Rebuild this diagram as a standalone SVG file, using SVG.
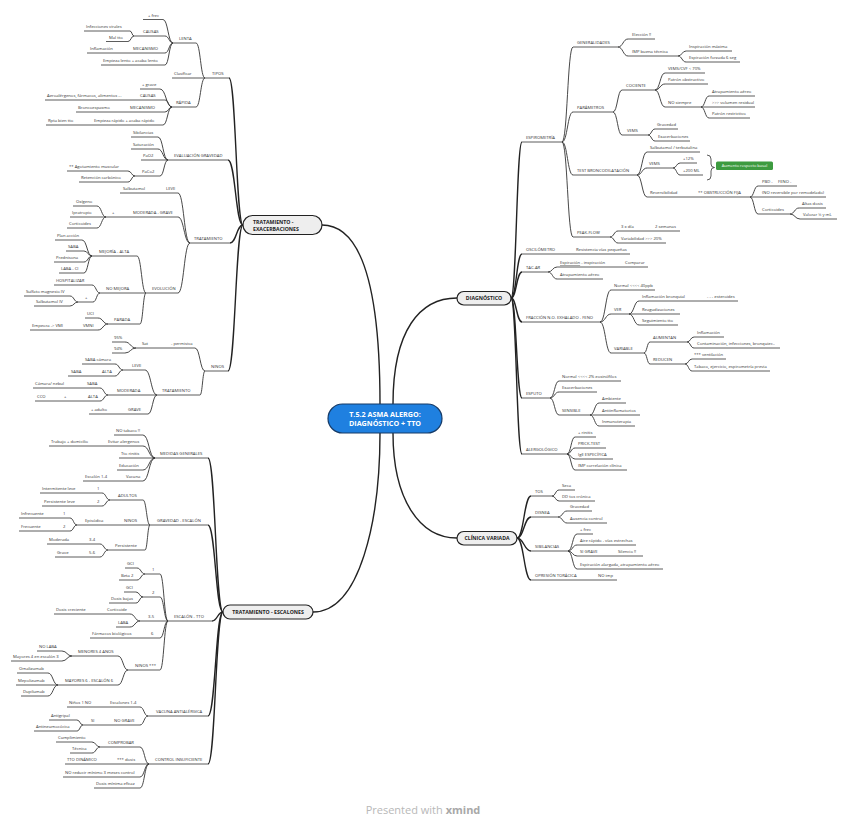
<svg xmlns="http://www.w3.org/2000/svg" width="848" height="829" viewBox="0 0 848 829">
<style>
.n text{font-family:'Open Sans','Liberation Sans',sans-serif;font-size:4.2px;fill:#333}
.n path{stroke:#333;stroke-width:.8;fill:none}
#connectors path{stroke:#333;stroke-width:.9;fill:none}
#connectors path.main{stroke-width:1.4;stroke:#222}
.m rect{fill:#eeeeee;stroke:#222;stroke-width:1.2}
.m text{font-family:'Open Sans','Liberation Sans',sans-serif;font-weight:700;font-size:5.2px;fill:#222}
</style>
<rect width="848" height="829" fill="#fff"/>
<g id="connectors">
<path class="main" d="M322 225C365 225 380 300 380 404"/>
<path class="main" d="M393 404C393 330 420 298 457 298"/>
<path class="main" d="M313 612C360 612 380 520 380 433"/>
<path class="main" d="M393 433C393 500 420 538 457 538"/>
<path class="main" d="M243 225C236 225 236 78 229 78"/>
<path class="main" d="M243 225C235.5 225 235.5 160 228 160"/>
<path class="main" d="M243 225C236.5 225 236.5 243 230 243"/>
<path class="main" d="M243 225C235.5 225 235.5 371 228 371"/>
<path class="main" d="M223 612C215.5 612 215.5 458 208 458"/>
<path class="main" d="M223 612C215.5 612 215.5 525 208 525"/>
<path class="main" d="M223 612C217.5 612 217.5 621 212 621"/>
<path class="main" d="M223 612C215.5 612 215.5 716 208 716"/>
<path class="main" d="M223 612C215.5 612 215.5 764 208 764"/>
<path class="main" d="M511 298C516.5 298 516.5 142 522 142"/>
<path class="main" d="M511 298C516.5 298 516.5 254 522 254"/>
<path class="main" d="M511 298C516.5 298 516.5 272 522 272"/>
<path class="main" d="M511 298C516.5 298 516.5 322 522 322"/>
<path class="main" d="M511 298C516.5 298 516.5 398 522 398"/>
<path class="main" d="M511 298C516.5 298 516.5 454 522 454"/>
<path class="main" d="M517 538C524 538 524 496 531 496"/>
<path class="main" d="M517 538C524 538 524 517 531 517"/>
<path class="main" d="M517 538C524 538 524 551 531 551"/>
<path class="main" d="M517 538C524 538 524 580 531 580"/>
<path d="M205 78C200.5 78 200.5 43 196 43"/>
<path d="M205 78C200.5 78 200.5 107 196 107"/>
<path d="M173 43C168 43 168 19.5 163 19.5"/>
<path d="M173 43C169 43 169 36 165 36"/>
<path d="M173 43C169 43 169 53 165 53"/>
<path d="M173 43C169 43 169 65 165 65"/>
<path d="M134 36C132 36 132 31 130 31"/>
<path d="M134 36C131 36 131 41.5 128 41.5"/>
<path d="M172 107C166 107 166 89 160 89"/>
<path d="M172 107C168.5 107 168.5 100 165 100"/>
<path d="M172 107C168.5 107 168.5 112 165 112"/>
<path d="M172 107C167.5 107 167.5 125 163 125"/>
<path d="M168 160C163 160 163 137 158 137"/>
<path d="M168 160C163 160 163 149 158 149"/>
<path d="M168 160C164 160 164 176 160 176"/>
<path d="M135 176C131.5 176 131.5 171 128 171"/>
<path d="M135 176C131.5 176 131.5 182 128 182"/>
<path d="M190 243C184 243 184 193 178 193"/>
<path d="M190 243C184 243 184 217 178 217"/>
<path d="M190 243C184 243 184 293 178 293"/>
<path d="M106 217C101.5 217 101.5 206 97 206"/>
<path d="M106 217C101.5 217 101.5 228 97 228"/>
<path d="M146 293C141.5 293 141.5 256 137 256"/>
<path d="M146 293C143 293 143 324 140 324"/>
<path d="M92 256C87 256 87 240 82 240"/>
<path d="M92 256C88 256 88 251 84 251"/>
<path d="M92 256C88 256 88 262 84 262"/>
<path d="M92 256C88 256 88 273 84 273"/>
<path d="M100 293C96 293 96 285 92 285"/>
<path d="M100 293C96.5 293 96.5 302 93 302"/>
<path d="M78 302C74 302 74 296 70 296"/>
<path d="M78 302C74 302 74 306 70 306"/>
<path d="M108 324C103 324 103 318 98 318"/>
<path d="M108 324C103 324 103 330 98 330"/>
<path d="M205 371C200 371 200 348 195 348"/>
<path d="M205 371C202.5 371 202.5 395 200 395"/>
<path d="M136 348C130.5 348 130.5 342 125 342"/>
<path d="M136 348C130.5 348 130.5 353 125 353"/>
<path d="M157 395C151 395 151 370 145 370"/>
<path d="M157 395C152.5 395 152.5 414 148 414"/>
<path d="M123 370C119 370 119 364 115 364"/>
<path d="M123 370C119 370 119 376 115 376"/>
<path d="M108 395C104 395 104 388 100 388"/>
<path d="M108 395C104 395 104 401 100 401"/>
<path d="M155 458C149 458 149 435 143 435"/>
<path d="M155 458C149 458 149 446 143 446"/>
<path d="M155 458C149 458 149 470 143 470"/>
<path d="M155 458C149 458 149 481 143 481"/>
<path d="M150 525C146.5 525 146.5 500 143 500"/>
<path d="M150 525C147.5 525 147.5 550 145 550"/>
<path d="M110 500C106 500 106 493 102 493"/>
<path d="M110 500C106 500 106 506 102 506"/>
<path d="M77 525C73.5 525 73.5 518 70 518"/>
<path d="M77 525C73.5 525 73.5 531 70 531"/>
<path d="M108 550C104 550 104 544 100 544"/>
<path d="M108 550C104 550 104 557 100 557"/>
<path d="M168 621C164 621 164 574 160 574"/>
<path d="M168 621C164 621 164 597 160 597"/>
<path d="M168 621C164 621 164 638 160 638"/>
<path d="M168 621C164 621 164 670 160 670"/>
<path d="M145 574C141 574 141 568 137 568"/>
<path d="M145 574C141 574 141 580 137 580"/>
<path d="M143 597C139.5 597 139.5 592 136 592"/>
<path d="M143 597C139.5 597 139.5 603 136 603"/>
<path d="M140 621C135 621 135 614 130 614"/>
<path d="M140 621C135 621 135 627 130 627"/>
<path d="M128 670C123 670 123 656 118 656"/>
<path d="M128 670C123 670 123 685 118 685"/>
<path d="M72 656C67 656 67 651 62 651"/>
<path d="M72 656C67 656 67 661 62 661"/>
<path d="M58 685C53 685 53 673 48 673"/>
<path d="M58 685C53 685 53 696 48 696"/>
<path d="M148 716C144 716 144 707 140 707"/>
<path d="M148 716C144 716 144 725 140 725"/>
<path d="M83 725C80 725 80 720 77 720"/>
<path d="M83 725C80 725 80 731 77 731"/>
<path d="M149 764C144.5 764 144.5 747 140 747"/>
<path d="M149 764C144.5 764 144.5 777 140 777"/>
<path d="M149 764C144.5 764 144.5 788 140 788"/>
<path d="M100 747C96 747 96 742 92 742"/>
<path d="M100 747C96 747 96 753 92 753"/>
<path d="M562 142C567.5 142 567.5 47 573 47"/>
<path d="M562 142C567.5 142 567.5 112 573 112"/>
<path d="M562 142C567.5 142 567.5 175 573 175"/>
<path d="M562 142C567.5 142 567.5 237 573 237"/>
<path d="M618 47C623 47 623 39 628 39"/>
<path d="M618 47C623 47 623 56 628 56"/>
<path d="M678 56C682 56 682 51 686 51"/>
<path d="M678 56C682 56 682 62 686 62"/>
<path d="M613 112C617.5 112 617.5 90 622 90"/>
<path d="M613 112C617.5 112 617.5 135 622 135"/>
<path d="M655 90C660 90 660 73 665 73"/>
<path d="M655 90C660 90 660 84 665 84"/>
<path d="M655 90C660 90 660 107 665 107"/>
<path d="M701 107C705 107 705 96 709 96"/>
<path d="M701 107C705 107 705 118 709 118"/>
<path d="M648 135C651.5 135 651.5 129 655 129"/>
<path d="M648 135C651.5 135 651.5 141 655 141"/>
<path d="M637 175C642 175 642 152 647 152"/>
<path d="M637 175C642 175 642 168 647 168"/>
<path d="M637 175C642 175 642 197 647 197"/>
<path d="M673 168C676.5 168 676.5 163 680 163"/>
<path d="M673 168C676.5 168 676.5 175 680 175"/>
<path d="M750 197C754 197 754 186 758 186"/>
<path d="M750 197C754 197 754 214 758 214"/>
<path d="M790 214C794.5 214 794.5 208 799 208"/>
<path d="M790 214C795 214 795 219 800 219"/>
<path d="M610 237C614 237 614 231 618 231"/>
<path d="M610 237C614 237 614 243 618 243"/>
<path d="M548 272C552.5 272 552.5 267 557 267"/>
<path d="M548 272C552.5 272 552.5 279 557 279"/>
<path d="M600 322C605.5 322 605.5 290 611 290"/>
<path d="M600 322C605.5 322 605.5 314 611 314"/>
<path d="M600 322C605.5 322 605.5 353 611 353"/>
<path d="M629 314C634 314 634 301 639 301"/>
<path d="M629 314C634 314 634 325 639 325"/>
<path d="M644 353C647 353 647 342 650 342"/>
<path d="M644 353C647 353 647 364 650 364"/>
<path d="M687 342C690.5 342 690.5 337 694 337"/>
<path d="M687 342C690.5 342 690.5 348 694 348"/>
<path d="M685 364C688.5 364 688.5 359 692 359"/>
<path d="M685 364C688.5 364 688.5 371 692 371"/>
<path d="M550 398C554.5 398 554.5 381 559 381"/>
<path d="M550 398C554.5 398 554.5 392 559 392"/>
<path d="M550 398C554.5 398 554.5 415 559 415"/>
<path d="M590 415C594.5 415 594.5 403 599 403"/>
<path d="M590 415C594.5 415 594.5 426 599 426"/>
<path d="M567 454C571 454 571 437 575 437"/>
<path d="M567 454C571 454 571 448 575 448"/>
<path d="M567 454C571 454 571 459 575 459"/>
<path d="M567 454C571 454 571 470 575 470"/>
<path d="M552 496C555.5 496 555.5 490 559 490"/>
<path d="M552 496C555.5 496 555.5 501 559 501"/>
<path d="M558 517C562.5 517 562.5 511 567 511"/>
<path d="M558 517C562.5 517 562.5 523 567 523"/>
<path d="M568 551C572.5 551 572.5 534 577 534"/>
<path d="M568 551C572.5 551 572.5 545 577 545"/>
<path d="M568 551C572.5 551 572.5 556 577 556"/>
<path d="M568 551C572.5 551 572.5 569 577 569"/>
</g>

<g id="central">
<rect x="328" y="404" width="114" height="29" rx="14.5" fill="#1f80e0" stroke="#163a66" stroke-width="1.2"/>
<text x="385" y="416.5" text-anchor="middle" font-family="'Open Sans','Liberation Sans',sans-serif" font-weight="700" font-size="7.2" fill="#fff">T.5.2 ASMA ALERGO:</text>
<text x="385" y="426" text-anchor="middle" font-family="'Open Sans','Liberation Sans',sans-serif" font-weight="700" font-size="7.2" fill="#fff">DIAGNÓSTICO + TTO</text>
</g>
<g id="tratamiento-exacerbaciones" class="m"><rect x="243" y="215.5" width="79" height="19" rx="9.5"/><text x="253" y="223.5">TRATAMIENTO -</text><text x="253" y="230.5">EXACERBACIONES</text></g>
<g id="tratamiento-escalones" class="m"><rect x="223" y="605" width="90" height="14" rx="7"/><text x="268" y="613.8" text-anchor="middle">TRATAMIENTO - ESCALONES</text></g>
<g id="diagnostico" class="m"><rect x="457" y="291.5" width="54" height="13.5" rx="6.75"/><text x="484" y="300" text-anchor="middle">DIAGNÓSTICO</text></g>
<g id="clinica-variada" class="m"><rect x="457" y="531.5" width="60" height="13.5" rx="6.75"/><text x="487" y="540" text-anchor="middle">CLÍNICA VARIADA</text></g>

<g class="n">
<g id="tipos"><text x="212" y="75.4">TIPOS</text><path d="M205 78H229"/></g>
<g id="lenta"><text x="179" y="40.4">LENTA</text><path d="M173 43H196"/></g>
<g id="clasificar"><text x="174" y="75.4">Clasificar</text><path d="M172 78H205"/></g>
<g id="rapida"><text x="176" y="104.4">RÁPIDA</text><path d="M172 107H196"/></g>
<g id="frec1"><text x="148" y="16.9">+ frec</text><path d="M143 19.5H163"/></g>
<g id="causas1"><text x="143" y="33.4">CAUSAS</text><path d="M134 36H165"/></g>
<g id="infvir"><text x="86" y="28.4">Infecciones virales</text><path d="M84 31H130"/></g>
<g id="maltto"><text x="109" y="38.9">Mal tto</text><path d="M106 41.5H128"/></g>
<g id="mec1"><text x="133" y="50.4">MECANISMO</text><path d="M118 53H165"/></g>
<g id="inflam1"><text x="90" y="50.4">Inflamación</text><path d="M87 53H118"/></g>
<g id="empl"><text x="103" y="62.4">Empieza lento + acaba lento</text><path d="M101 65H165"/></g>
<g id="grave1"><text x="142" y="86.4">+ grave</text><path d="M140 89H160"/></g>
<g id="causas2"><text x="140" y="97.4">CAUSAS</text><path d="M125 100H165"/></g>
<g id="aero"><text x="47" y="97.4">Aeroalérgenos, fármacos, alimentos ...</text><path d="M45 100H125"/></g>
<g id="mec2"><text x="130" y="109.4">MECANISMO</text><path d="M115 112H165"/></g>
<g id="bronco"><text x="78" y="109.4">Broncoespasmo</text><path d="M76 112H115"/></g>
<g id="empr"><text x="94" y="122.4">Empieza rápido + acaba rápido</text><path d="M80 125H163"/></g>
<g id="rpta"><text x="48" y="122.4">Rpta bien tto</text><path d="M46 125H80"/></g>

<g id="eval"><text x="174" y="157.4">EVALUACIÓN GRAVEDAD</text><path d="M168 160H228"/></g>
<g id="sib"><text x="133" y="134.4">Sibilancias</text><path d="M131 137H158"/></g>
<g id="satur"><text x="133" y="146.4">Saturación</text><path d="M131 149H158"/></g>
<g id="pao2"><text x="143" y="157.4">PaO2</text><path d="M141 160H168"/></g>
<g id="paco2"><text x="142" y="173.4">PaCo2</text><path d="M135 176H160"/></g>
<g id="agot"><text x="69" y="168.4">** Agotamiento muscular</text><path d="M67 171H128"/></g>
<g id="ret"><text x="81" y="179.4">Retención carbónico</text><path d="M79 182H128"/></g>

<g id="trat1"><text x="194" y="240.4">TRATAMIENTO</text><path d="M190 243H230"/></g>
<g id="leve1"><text x="166" y="190.4">LEVE</text><path d="M158 193H178"/></g>
<g id="salb"><text x="123" y="190.4">Salbutamol</text><path d="M120 193H158"/></g>
<g id="modg"><text x="133" y="214.4">MODERADA - GRAVE</text><path d="M125 217H178"/></g>
<g id="plus1"><text x="112" y="214.4">+</text><path d="M106 217H125"/></g>
<g id="oxi"><text x="76" y="203.4">Oxígeno</text><path d="M73 206H97"/></g>
<g id="ipra"><text x="72" y="214.4">Ipratropio</text><path d="M70 217H106"/></g>
<g id="cort1"><text x="69" y="225.4">Corticoides</text><path d="M67 228H97"/></g>
<g id="evol"><text x="152" y="290.4">EVOLUCIÓN</text><path d="M146 293H178"/></g>
<g id="mej"><text x="99" y="253.4">MEJORÍA - ALTA</text><path d="M92 256H137"/></g>
<g id="plan"><text x="57" y="237.4">Plan acción</text><path d="M55 240H82"/></g>
<g id="saba1"><text x="68" y="248.4">SABA</text><path d="M66 251H84"/></g>
<g id="pred"><text x="56" y="259.4">Prednisona</text><path d="M54 262H84"/></g>
<g id="labaci"><text x="61" y="270.4">LABA - CI</text><path d="M59 273H84"/></g>
<g id="nomej"><text x="106" y="290.4">NO MEJORA</text><path d="M100 293H146"/></g>
<g id="hosp"><text x="56" y="282.4">HOSPITALIZAR</text><path d="M54 285H92"/></g>
<g id="plus2"><text x="85" y="299.4">+</text><path d="M78 302H93"/></g>
<g id="sulf"><text x="26" y="293.4">Sulfato magnesio IV</text><path d="M24 296H70"/></g>
<g id="salbiv"><text x="36" y="303.4">Salbutamol IV</text><path d="M34 306H70"/></g>
<g id="parada"><text x="114" y="321.4">PARADA</text><path d="M108 324H140"/></g>
<g id="uci"><text x="87" y="315.4">UCI</text><path d="M85 318H98"/></g>
<g id="vmni"><text x="83" y="327.4">VMNI</text><path d="M62 330H98"/></g>
<g id="empeora"><text x="32" y="327.4">Empeora -&gt; VMI</text><path d="M30 330H62"/></g>

<g id="ninos1"><text x="211" y="368.4">NIÑOS</text><path d="M205 371H228"/></g>
<g id="perm"><text x="171" y="345.4">- permisiva</text><path d="M165 348H195"/></g>
<g id="sat2"><text x="142" y="345.4">Sat</text><path d="M136 348H165"/></g>
<g id="p95"><text x="114" y="339.4">95%</text><path d="M112 342H125"/></g>
<g id="p94"><text x="114" y="350.4">94%</text><path d="M112 353H125"/></g>
<g id="trat2"><text x="162" y="392.4">TRATAMIENTO</text><path d="M157 395H200"/></g>
<g id="leve2"><text x="132" y="367.4">LEVE</text><path d="M123 370H145"/></g>
<g id="sabacam"><text x="85" y="361.4">SABA cámara</text><path d="M82 364H115"/></g>
<g id="alta1"><text x="102" y="373.4">ALTA</text><path d="M95 376H115"/></g>
<g id="saba2"><text x="71" y="373.4">SABA</text><path d="M68 376H95"/></g>
<g id="mod"><text x="117" y="392.4">MODERADA</text><path d="M108 395H157"/></g>
<g id="saba3"><text x="87" y="385.4">SABA</text><path d="M70 388H100"/></g>
<g id="camara"><text x="35" y="385.4">Cámara/ nebul</text><path d="M33 388H70"/></g>
<g id="alta2"><text x="88" y="398.4">ALTA</text><path d="M80 401H100"/></g>
<g id="plus3"><text x="64" y="398.4">+</text><path d="M55 401H80"/></g>
<g id="cco"><text x="37" y="398.4">CCO</text><path d="M35 401H55"/></g>
<g id="grave2"><text x="128" y="411.4">GRAVE</text><path d="M120 414H148"/></g>
<g id="adulto"><text x="91" y="411.4">+ adulto</text><path d="M89 414H120"/></g>

<g id="medidas"><text x="160" y="455.4">MEDIDAS GENERALES</text><path d="M155 458H208"/></g>
<g id="notab"><text x="116" y="432.4">NO tabaco !!</text><path d="M114 435H143"/></g>
<g id="evitar"><text x="108" y="443.4">Evitar alergenos</text><path d="M105 446H143"/></g>
<g id="trabajo"><text x="51" y="443.4">Trabajo + domicilio</text><path d="M49 446H105"/></g>
<g id="ttorin"><text x="121" y="455.4">Tto rinitis</text><path d="M119 458H155"/></g>
<g id="educ"><text x="119" y="467.4">Educación</text><path d="M117 470H143"/></g>
<g id="vacuna"><text x="126" y="478.4">Vacuna</text><path d="M118 481H143"/></g>
<g id="esc14"><text x="85" y="478.4">Escalón 1-4</text><path d="M83 481H118"/></g>
<g id="gravesc"><text x="157" y="522.4">GRAVEDAD - ESCALÓN</text><path d="M150 525H208"/></g>
<g id="adultos"><text x="118" y="497.4">ADULTOS</text><path d="M110 500H143"/></g>
<g id="one1"><text x="97" y="490.4">1</text><path d="M92 493H102"/></g>
<g id="interm"><text x="42" y="490.4">Intermitente leve</text><path d="M40 493H92"/></g>
<g id="two1"><text x="97" y="503.4">2</text><path d="M92 506H102"/></g>
<g id="persleve"><text x="44" y="503.4">Persistente leve</text><path d="M42 506H92"/></g>
<g id="ninos2"><text x="124" y="522.4">NIÑOS</text><path d="M110 525H150"/></g>
<g id="episod"><text x="85" y="522.4">Episódica</text><path d="M77 525H110"/></g>
<g id="one2"><text x="63" y="515.4">1</text><path d="M55 518H70"/></g>
<g id="infrec"><text x="21" y="515.4">Infrecuente</text><path d="M19 518H55"/></g>
<g id="two2"><text x="63" y="528.4">2</text><path d="M55 531H70"/></g>
<g id="frec2"><text x="21" y="528.4">Frecuente</text><path d="M19 531H55"/></g>
<g id="persis"><text x="115" y="547.4">Persistente</text><path d="M108 550H145"/></g>
<g id="t34"><text x="89" y="541.4">3-4</text><path d="M82 544H100"/></g>
<g id="moder"><text x="49" y="541.4">Moderada</text><path d="M47 544H82"/></g>
<g id="t56"><text x="89" y="554.4">5-6</text><path d="M82 557H100"/></g>
<g id="grave3"><text x="57" y="554.4">Grave</text><path d="M55 557H82"/></g>
<g id="esctto"><text x="174" y="618.4">ESCALÓN - TTO</text><path d="M168 621H212"/></g>
<g id="s1"><text x="152" y="571.4">1</text><path d="M145 574H160"/></g>
<g id="gci1"><text x="127" y="565.4">GCI</text><path d="M125 568H137"/></g>
<g id="beta2"><text x="121" y="577.4">Beta 2</text><path d="M119 580H137"/></g>
<g id="s2"><text x="152" y="594.4">2</text><path d="M143 597H160"/></g>
<g id="gci2"><text x="126" y="589.4">GCI</text><path d="M124 592H136"/></g>
<g id="dosisb"><text x="111" y="600.4">Dosis bajas</text><path d="M109 603H136"/></g>
<g id="s35"><text x="148" y="618.4">3-5</text><path d="M140 621H168"/></g>
<g id="corticoide"><text x="107" y="611.4">Corticoide</text><path d="M98 614H130"/></g>
<g id="dosisc"><text x="56" y="611.4">Dosis creciente</text><path d="M54 614H98"/></g>
<g id="laba"><text x="118" y="624.4">LABA</text><path d="M116 627H130"/></g>
<g id="s6"><text x="151" y="635.4">6</text><path d="M140 638H160"/></g>
<g id="farm"><text x="92" y="635.4">Fármacos biológicos</text><path d="M90 638H140"/></g>
<g id="ninos3"><text x="135" y="667.4">NIÑOS ***</text><path d="M128 670H160"/></g>
<g id="menores"><text x="78" y="653.4">MENORES 4 AÑOS</text><path d="M72 656H118"/></g>
<g id="nolaba"><text x="39" y="648.4">NO LABA</text><path d="M37 651H62"/></g>
<g id="may4"><text x="13" y="658.4">Mayores 4 en escalón 3</text><path d="M11 661H62"/></g>
<g id="mayores"><text x="65" y="682.4">MAYORES 6 - ESCALÓN 6</text><path d="M58 685H118"/></g>
<g id="omali"><text x="19" y="670.4">Omalizumab</text><path d="M17 673H48"/></g>
<g id="mepo"><text x="18" y="682.4">Mepolizumab</text><path d="M16 685H58"/></g>
<g id="dupi"><text x="23" y="693.4">Dupilumab</text><path d="M21 696H48"/></g>
<g id="vacunaa"><text x="156" y="713.4">VACUNA ANTIALÉRGICA</text><path d="M148 716H208"/></g>
<g id="escs14"><text x="110" y="704.4">Escalones 1-4</text><path d="M100 707H140"/></g>
<g id="ninos1no"><text x="69" y="704.4">Niños 1 NO</text><path d="M67 707H100"/></g>
<g id="nograve"><text x="114" y="722.4">NO GRAVE</text><path d="M98 725H140"/></g>
<g id="si"><text x="91" y="722.4">SI</text><path d="M83 725H98"/></g>
<g id="antigr"><text x="51" y="717.4">Antigripal</text><path d="M49 720H77"/></g>
<g id="antineu"><text x="36" y="728.4">Antineumocócica</text><path d="M34 731H77"/></g>
<g id="control"><text x="155" y="761.4">CONTROL INSUFICIENTE</text><path d="M149 764H208"/></g>
<g id="comprobar"><text x="108" y="744.4">COMPROBAR</text><path d="M100 747H140"/></g>
<g id="cumpl"><text x="58" y="739.4">Cumplimiento</text><path d="M56 742H92"/></g>
<g id="tecnica"><text x="72" y="750.4">Técnica</text><path d="M70 753H92"/></g>
<g id="dosis3"><text x="117" y="761.4">*** dosis</text><path d="M100 764H149"/></g>
<g id="ttodin"><text x="67" y="761.4">TTO DINÁMICO</text><path d="M65 764H100"/></g>
<g id="noreducir"><text x="65" y="774.4">NO reducir mínimo 3 meses control</text><path d="M63 777H140"/></g>
<g id="dosismin"><text x="96" y="785.4">Dosis mínima eficaz</text><path d="M94 788H140"/></g>

<g id="espiro"><text x="526" y="139.4">ESPIROMETRÍA</text><path d="M522 142H562"/></g>
<g id="gen"><text x="577" y="44.4">GENERALIDADES</text><path d="M573 47H618"/></g>
<g id="eleccion"><text x="632" y="36.4">Elección !!</text><path d="M628 39H655"/></g>
<g id="imp"><text x="632" y="53.4">IMP buena técnica</text><path d="M628 56H678"/></g>
<g id="insp"><text x="689" y="48.4">Inspiración máxima</text><path d="M686 51H732"/></g>
<g id="espf"><text x="689" y="59.4">Espiración forzada 6 seg</text><path d="M686 62H740"/></g>
<g id="param"><text x="577" y="109.4">PARÁMETROS</text><path d="M573 112H613"/></g>
<g id="cociente"><text x="626" y="87.4">COCIENTE</text><path d="M622 90H655"/></g>
<g id="vemscvf"><text x="668" y="70.4">VEMS/CVF &lt; 70%</text><path d="M665 73H705"/></g>
<g id="patobs"><text x="668" y="81.4">Patrón obstructivo</text><path d="M665 84H708"/></g>
<g id="nosiempre"><text x="668" y="104.4">NO siempre</text><path d="M665 107H701"/></g>
<g id="atrap1"><text x="712" y="93.4">Atrapamiento aéreo</text><path d="M709 96H755"/></g>
<g id="volres"><text x="712" y="104.4">&gt;&gt;&gt; volumen residual</text><path d="M701 107H755"/></g>
<g id="patres"><text x="712" y="115.4">Patrón restrictivo</text><path d="M709 118H750"/></g>
<g id="vems1"><text x="627" y="132.4">VEMS</text><path d="M622 135H648"/></g>
<g id="gravedad1"><text x="657" y="126.4">Gravedad</text><path d="M655 129H678"/></g>
<g id="exac1"><text x="658" y="138.4">Exacerbaciones</text><path d="M655 141H690"/></g>
<g id="test"><text x="577" y="172.4">TEST BRONCODILATACIÓN</text><path d="M573 175H637"/></g>
<g id="salbter"><text x="650" y="149.4">Salbutamol / terbutalina</text><path d="M647 152H700"/></g>
<g id="vems2"><text x="649" y="165.4">VEMS</text><path d="M647 168H673"/></g>
<g id="p12"><text x="683" y="160.4">+12%</text><path d="M680 163H697"/></g>
<g id="p200"><text x="683" y="172.4">+200 ML</text><path d="M680 175H703"/></g>
<g id="aumento-basal"><path d="M707 155Q711 155 711 159V164Q711 167.5 714.5 167.5Q711 167.5 711 171V176Q711 180 707 180" stroke="#4caf50" stroke-width=".8" fill="none"/><rect x="716" y="161.5" width="57" height="8.5" rx="1.5" fill="#3d9b40" stroke="none"/><text x="744.5" y="167.2" text-anchor="middle" style="fill:#fff;font-size:4px">Aumento respecto basal</text></g>
<g id="revers"><text x="650" y="194.4">Reversibilidad</text><path d="M647 197H695"/></g>
<g id="obst"><text x="698" y="194.4">** OBSTRUCCIÓN FIJA</text><path d="M695 197H750"/></g>
<g id="pbd"><text x="762" y="183.4">PBD -</text><path d="M758 186H776"/></g>
<g id="feno"><text x="778" y="183.4">FENO -</text><path d="M776 186H797"/></g>
<g id="noreve"><text x="762" y="194.4">(NO reversible por remodelado)</text><path d="M750 197H826"/></g>
<g id="cortic2"><text x="762" y="211.4">Corticoides</text><path d="M758 214H790"/></g>
<g id="altas"><text x="802" y="205.4">Altas dosis</text><path d="M799 208H826"/></g>
<g id="valorar"><text x="803" y="216.4">Valorar ¼ y mL</text><path d="M800 219H837"/></g>
<g id="peak"><text x="577" y="234.4">PEAK-FLOW</text><path d="M573 237H610"/></g>
<g id="x3dia"><text x="621" y="228.4">3 x día</text><path d="M618 231H645"/></g>
<g id="sem2"><text x="655" y="228.4">2 semanas</text><path d="M645 231H680"/></g>
<g id="variab"><text x="621" y="240.4">Variabilidad &gt;&gt;&gt; 20%</text><path d="M618 243H666"/></g>
<g id="oscil"><text x="526" y="251.4">OSCILÓMETRO</text><path d="M522 254H570"/></g>
<g id="resist"><text x="576" y="251.4">Resistencia vías pequeñas</text><path d="M570 254H630"/></g>
<g id="tac"><text x="526" y="269.4">TAC-AR</text><path d="M522 272H548"/></g>
<g id="espinsp"><text x="560" y="264.4"><tspan text-decoration="underline">Espiración</tspan> - inspiración</text><path d="M557 267H612"/></g>
<g id="comparar"><text x="625" y="264.4">Comparar</text><path d="M612 267H648"/></g>
<g id="atrap2"><text x="560" y="276.4">Atrapamiento aéreo</text><path d="M557 279H603"/></g>
<g id="fracc"><text x="526" y="319.4">FRACCIÓN N.O. EXHALADO - FENO</text><path d="M522 322H600"/></g>
<g id="normal1"><text x="614" y="287.4">Normal &lt;&lt;&lt;&lt; 40ppb</text><path d="M611 290H655"/></g>
<g id="ver"><text x="614" y="311.4">VER</text><path d="M611 314H629"/></g>
<g id="inflbr"><text x="642" y="298.4">Inflamación bronquial</text><path d="M639 301H700"/></g>
<g id="ester"><text x="707" y="298.4">- - - esteroides</text><path d="M700 301H738"/></g>
<g id="reag"><text x="642" y="311.4">Reagudizaciones</text><path d="M629 314H680"/></g>
<g id="segui"><text x="642" y="322.4">Seguimiento tto</text><path d="M639 325H678"/></g>
<g id="variable"><text x="614" y="350.4">VARIABLE</text><path d="M611 353H644"/></g>
<g id="aument"><text x="653" y="339.4">AUMENTAN</text><path d="M650 342H687"/></g>
<g id="inflam2"><text x="697" y="334.4">Inflamación</text><path d="M694 337H724"/></g>
<g id="contam"><text x="697" y="345.4">Contaminación, infecciones, bronquiec..</text><path d="M694 348H780"/></g>
<g id="reducen"><text x="653" y="361.4">REDUCEN</text><path d="M650 364H685"/></g>
<g id="ventil"><text x="694" y="356.4">*** ventilación</text><path d="M692 359H726"/></g>
<g id="tabaco"><text x="694" y="368.4">Tabaco, ejercicio, espirometría previa</text><path d="M692 371H770"/></g>
<g id="esputo"><text x="526" y="395.4">ESPUTO</text><path d="M522 398H550"/></g>
<g id="normal2"><text x="562" y="378.4">Normal &lt;&lt;&lt;&lt; 2% eosinófilos</text><path d="M559 381H621"/></g>
<g id="exac2"><text x="562" y="389.4">Exacerbaciones</text><path d="M559 392H597"/></g>
<g id="sensible"><text x="562" y="412.4">SENSIBLE</text><path d="M559 415H590"/></g>
<g id="ambiente"><text x="602" y="400.4">Ambiente</text><path d="M599 403H626"/></g>
<g id="antiinf"><text x="602" y="412.4">Antiinflamatorios</text><path d="M590 415H640"/></g>
<g id="inmuno"><text x="602" y="423.4">Inmunoterapia</text><path d="M599 426H635"/></g>
<g id="alerg"><text x="526" y="451.4">ALERGOLÓGICO</text><path d="M522 454H567"/></g>
<g id="rinitis"><text x="578" y="434.4">+ rinitis</text><path d="M575 437H596"/></g>
<g id="prick"><text x="578" y="445.4">PRICK-TEST</text><path d="M575 448H606"/></g>
<g id="ige"><text x="578" y="456.4">IgE ESPECÍFICA</text><path d="M575 459H613"/></g>
<g id="impcorr"><text x="578" y="467.4">IMP correlación clínica</text><path d="M575 470H627"/></g>
<g id="tos"><text x="535" y="493.4">TOS</text><path d="M531 496H552"/></g>
<g id="seca"><text x="562" y="487.4">Seca</text><path d="M559 490H575"/></g>
<g id="ddtos"><text x="562" y="498.4">DD tos crónica</text><path d="M559 501H595"/></g>
<g id="disnea"><text x="535" y="514.4">DISNEA</text><path d="M531 517H558"/></g>
<g id="gravedad2"><text x="570" y="508.4">Gravedad</text><path d="M567 511H592"/></g>
<g id="ausencia"><text x="570" y="520.4">Ausencia control</text><path d="M567 523H607"/></g>
<g id="sibil"><text x="535" y="548.4">SIBILANCIAS</text><path d="M531 551H568"/></g>
<g id="frec3"><text x="580" y="531.4">+ frec</text><path d="M577 534H593"/></g>
<g id="aire"><text x="580" y="542.4">Aire rápido - vías estrechas</text><path d="M577 545H636"/></g>
<g id="sigrave"><text x="580" y="553.4">SI GRAVE</text><path d="M577 556H610"/></g>
<g id="silencio"><text x="618" y="553.4">Silencio !!</text><path d="M610 556H643"/></g>
<g id="espalarg"><text x="580" y="566.4">Espiración alargada, atrapamiento aéreo</text><path d="M577 569H663"/></g>
<g id="opres"><text x="535" y="577.4">OPRESIÓN TORÁCICA</text><path d="M531 580H590"/></g>
<g id="noimp"><text x="598" y="577.4">NO imp</text><path d="M590 580H617"/></g>
</g>

<text x="423" y="814" text-anchor="middle" font-family="'Open Sans','Liberation Sans',sans-serif" font-size="11" fill="#b8b8b8">Presented with <tspan font-weight="700" fill="#a8a8a8">xmind</tspan></text>
</svg>
